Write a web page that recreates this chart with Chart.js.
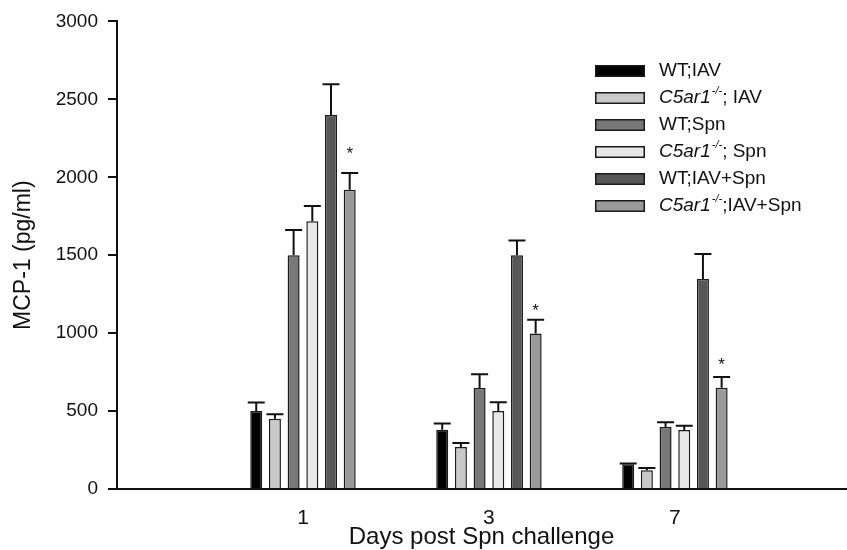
<!DOCTYPE html>
<html><head><meta charset="utf-8">
<script src="https://cdn.jsdelivr.net/npm/chart.js@4"></script>
<style>html,body{margin:0;padding:0;background:#fff}#wrap{width:847px;height:550px;position:relative}</style>
</head><body><div id="wrap"><canvas id="c"></canvas></div>
<script>
// ---- data ----
const days = ['1', '3', '7'];
const seriesNames = ['WT;IAV', 'C5ar1-/-; IAV', 'WT;Spn', 'C5ar1-/-; Spn', 'WT;IAV+Spn', 'C5ar1-/-;IAV+Spn'];
const wtIav       = [500, 380, 158];
const c5Iav       = [450, 270, 120];
const wtSpn       = [1500, 648, 397];
const c5Spn       = [1718, 500, 378];
const wtIavSpn    = [2400, 1500, 1348];
const c5IavSpn    = [1920, 998, 650];
const errWtIav    = [55, 40, 5];
const errC5Iav    = [30, 25, 15];
const errWtSpn    = [162, 88, 32];
const errC5Spn    = [98, 56, 28];
const errWtIavSpn = [196, 95, 160];
const errC5IavSpn = [108, 88, 68];
const starValues  = [2165, 1160, 810]; // '*' markers above C5ar1-/-;IAV+Spn
const yTickMax = 3000, yTickStep = 500;

// ---- styles ----
const FONT = '"Liberation Sans", Arial, sans-serif';
const fills = ['#000000', '#c9c9c9', '#787878', '#e8e8e8', '#575757', '#9a9a9a'];
const edge = '#1a1a1a';

const seriesValues = [wtIav, c5Iav, wtSpn, c5Spn, wtIavSpn, c5IavSpn];
const seriesErrors = [errWtIav, errC5Iav, errWtSpn, errC5Spn, errWtIavSpn, errC5IavSpn];

const datasets = seriesNames.map((name, i) => ({
  label: name,
  data: seriesValues[i].map((v, j) => ({x: j + 1, y: v})),
  errors: seriesErrors[i],
  backgroundColor: fills[i],
  borderColor: edge,
  borderWidth: 1.5,
  borderSkipped: 'bottom',
  categoryPercentage: 0.603,
  barPercentage: 0.642
}));

const errorBars = {
  id: 'errorBars',
  afterDatasetsDraw(chart) {
    const ctx = chart.ctx, ys = chart.scales.y;
    ctx.save();
    ctx.strokeStyle = '#111';
    ctx.lineWidth = 2;
    chart.data.datasets.forEach((ds, di) => {
      const meta = chart.getDatasetMeta(di);
      meta.data.forEach((el, j) => {
        const v = ds.data[j].y, e = ds.errors[j];
        const yTop = ys.getPixelForValue(v + e);
        ctx.beginPath();
        ctx.moveTo(el.x, el.y);
        ctx.lineTo(el.x, yTop);
        ctx.moveTo(el.x - 8.5, yTop);
        ctx.lineTo(el.x + 8.5, yTop);
        ctx.stroke();
      });
    });
    // significance stars
    const last = chart.getDatasetMeta(chart.data.datasets.length - 1);
    ctx.fillStyle = '#111';
    ctx.font = '17px ' + FONT;
    ctx.textAlign = 'center';
    ctx.textBaseline = 'middle';
    last.data.forEach((el, j) => {
      ctx.fillText('*', el.x, ys.getPixelForValue(starValues[j]) + 3);
    });
    ctx.restore();
  }
};

const customLegend = {
  id: 'customLegend',
  afterDraw(chart) {
    const ctx = chart.ctx;
    const x0 = 595, y0 = 71, dy = 27, bw = 50, bh = 12, tx = 659;
    ctx.save();
    seriesNames.forEach((name, i) => {
      const y = y0 + i * dy;
      ctx.fillStyle = fills[i];
      ctx.fillRect(x0, y - bh / 2, bw, bh);
      ctx.strokeStyle = edge;
      ctx.lineWidth = 1.5;
      ctx.strokeRect(x0 + 0.75, y - bh / 2 + 0.75, bw - 1.5, bh - 1.5);
      ctx.fillStyle = '#111';
      ctx.textAlign = 'left';
      ctx.textBaseline = 'middle';
      let x = tx;
      const m = name.match(/^(C5ar1)(-\/-)(.*)$/);
      if (m) {
        ctx.font = 'italic 19px ' + FONT;
        ctx.fillText(m[1], x, y);
        x += ctx.measureText(m[1]).width + 1;
        ctx.font = 'italic 11px ' + FONT;
        ctx.fillText(m[2], x, y - 7);
        x += ctx.measureText(m[2]).width;
        ctx.font = '19px ' + FONT;
        ctx.fillText(m[3], x, y);
      } else {
        ctx.font = '19px ' + FONT;
        ctx.fillText(name, x, y);
      }
    });
    ctx.restore();
  }
};

new Chart(document.getElementById('c'), {
  type: 'bar',
  data: { datasets },
  options: {
    responsive: true,
    maintainAspectRatio: false,
    animation: false,
    layout: { padding: { left: 0, right: 1, top: 20, bottom: 0 } },
    plugins: { legend: { display: false }, tooltip: { enabled: false } },
    scales: {
      x: {
        type: 'linear',
        offset: false,
        min: 0,
        max: 3.92,
        afterBuildTicks(scale) { scale.ticks = days.map((d, i) => ({ value: i + 1 })); },
        afterFit(scale) { scale.height = 61; },
        ticks: {
          callback: (v, i) => days[i],
          font: { family: FONT, size: 21 },
          color: '#111',
          padding: 17,
          maxRotation: 0
        },
        grid: { display: true, drawOnChartArea: false, drawTicks: false },
        border: { display: true, color: '#111', width: 2 },
        title: {
          display: true,
          text: 'Days post Spn challenge',
          font: { family: FONT, size: 24, lineHeight: 1 },
          color: '#111',
          padding: { top: 0, bottom: 1 }
        }
      },
      y: {
        min: 0,
        max: yTickMax,
        afterFit(scale) { scale.width = 117; },
        ticks: {
          stepSize: yTickStep,
          callback: (v) => String(v),
          font: { family: FONT, size: 19 },
          color: '#111',
          padding: 10
        },
        grid: { drawOnChartArea: false, drawTicks: true, tickLength: 9, color: '#111', lineWidth: 2 },
        border: { display: true, color: '#111', width: 2 },
        title: {
          display: true,
          text: 'MCP-1 (pg/ml)',
          font: { family: FONT, size: 23, lineHeight: 1.2 },
          color: '#111',
          padding: { top: 10, bottom: 0 }
        }
      }
    }
  },
  plugins: [errorBars, customLegend]
});
</script>
</body></html>
